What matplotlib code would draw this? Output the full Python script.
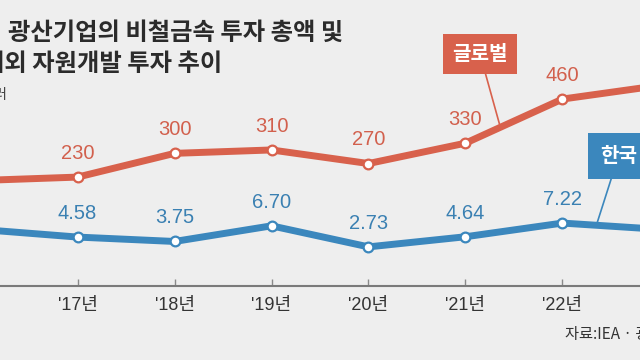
import matplotlib
matplotlib.use("Agg")
import matplotlib.pyplot as plt
import numpy as np

# data (2016 and 2023 only partly visible, estimated)
years = [2016, 2017, 2018, 2019, 2020, 2021, 2022, 2023]
tick_labels = ["'16년", "'17년", "'18년", "'19년", "'20년", "'21년", "'22년", "'23년"]
global_inv = [220, 230, 300, 310, 270, 330, 460, 500]
korea_inv = [6.02, 4.58, 3.75, 6.70, 2.73, 4.64, 7.22, 6.04]
shown = [False, True, True, True, True, True, True, False]

RED = '#d8614c'
RED_TXT = '#d2604d'
BLUE = '#3b87bd'
BLUE_TXT = '#3a80b2'
BG = '#eeeeee'

cjk = ['Noto Sans CJK KR', 'DejaVu Sans']
num_font = ['Liberation Sans', 'Noto Sans CJK KR']

W, H = 640, 360
fig = plt.figure(figsize=(6.4, 3.6), dpi=100, facecolor=BG)
base = 286  # pixel row of the x axis line
ax = fig.add_axes([0, (H - base) / H, 1, base / H])
ax.set_facecolor(BG)
ax2 = ax.twinx()

ax.plot(years, global_inv, color=RED, lw=5, solid_capstyle='butt', zorder=3,
        marker='o', markersize=7, markerfacecolor='white', markeredgecolor=RED,
        markeredgewidth=1.6, markevery=shown)
ax2.plot(years, korea_inv, color=BLUE, lw=5, solid_capstyle='butt', zorder=3,
         marker='o', markersize=7, markerfacecolor='white', markeredgecolor=BLUE,
         markeredgewidth=1.6, markevery=shown)

# axis
for side in ['top', 'left', 'right']:
    ax.spines[side].set_visible(False)
    ax2.spines[side].set_visible(False)
ax2.spines['bottom'].set_visible(False)
ax.spines['bottom'].set_color('#7a7a7a')
ax.spines['bottom'].set_linewidth(1.5)
ax.set_yticks([])
ax2.set_yticks([])
ax.set_xticks(years)
ax.set_xticklabels(tick_labels, family=num_font, fontsize=13, color='#333333')
ax.tick_params(axis='x', direction='in', length=5, width=1, color='#8a8a8a', pad=8)

# limits after ticks (set_xticks widens the view)
ax.set_xlim(2016.2, 2022.8)
ax.set_ylim(-91, 752)
ax2.set_ylim(-4.65, 49.3)

for x, v, s in zip(years, global_inv, shown):
    if s:
        ax.annotate(f"{v}", (x, v), xytext=(0, 17), textcoords='offset points',
                    ha='center', va='center', fontsize=14.5, color=RED_TXT,
                    family=num_font)
for x, v, s in zip(years, korea_inv, shown):
    if s:
        ax2.annotate(f"{v:.2f}", (x, v), xytext=(0, 17), textcoords='offset points',
                     ha='center', va='center', fontsize=14.5, color=BLUE_TXT,
                     family=num_font)

# series labels with pointers
gx = 2021.36
gy = np.interp(gx, years, global_inv)
ax.annotate("글로벌", (gx, gy), xytext=(480, 306), textcoords='figure pixels',
            ha='center', va='center', fontsize=14.5, color='white', family=cjk,
            weight='bold',
            bbox=dict(boxstyle='square,pad=0.45', fc=RED, ec='none'),
            arrowprops=dict(arrowstyle='-', color=RED, lw=1.2, shrinkA=0, shrinkB=0),
            zorder=5)
kx = 2022.35
ky = np.interp(kx, years, korea_inv)
ax2.annotate("한국", (kx, ky), xytext=(600, 204), textcoords='figure pixels',
             ha='left', va='center', fontsize=14.5, color='white', family=cjk,
             weight='bold',
             bbox=dict(boxstyle='square,pad=0.6', fc=BLUE, ec='none'),
             arrowprops=dict(arrowstyle='-', color=BLUE, lw=1.2, shrinkA=0, shrinkB=0),
             zorder=5)

# title block
fig.text(8 / W, 1 - 33 / H, "광산기업의 비철금속 투자 총액 및", family=cjk,
         fontsize=17.5, weight='bold', color='#2b2b2b', ha='left', va='center')
fig.text(-18 / W, 1 - 64 / H, "해외 자원개발 투자 추이", family=cjk,
         fontsize=17.5, weight='bold', color='#2b2b2b', ha='left', va='center')
fig.text(8 / W, 1 - 95 / H, "단위:억달러", family=cjk, fontsize=10.5,
         color='#444444', ha='right', va='center')
fig.text(565 / W, 1 - 334 / H, "자료:IEA · 광해광업공단", family=cjk, fontsize=11,
         color='#333333', ha='left', va='center')

fig.savefig("out.png", dpi=100, facecolor=BG)
